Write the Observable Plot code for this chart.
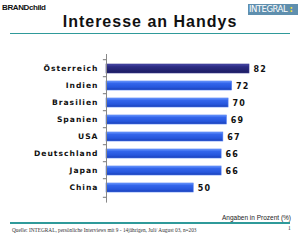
<!DOCTYPE html>
<html><head><meta charset="utf-8">
<script src="https://cdn.jsdelivr.net/npm/d3@7"></script>
<script src="https://cdn.jsdelivr.net/npm/@observablehq/plot@0.6"></script>
<style>
html,body{margin:0;padding:0;background:#fff;}
#wrap{position:relative;width:300px;height:240px;overflow:hidden;font-family:"Liberation Sans",Arial,sans-serif;}
#brand{position:absolute;left:2px;top:3px;font-size:8px;font-weight:bold;letter-spacing:-0.4px;color:#111;}
#logo{position:absolute;left:248px;top:4px;width:50px;height:11px;background:#5f8fae;color:#fff;font-family:"DejaVu Sans",sans-serif;font-size:8.5px;line-height:11px;letter-spacing:-0.5px;padding-left:1px;box-sizing:border-box;}
#logo span{color:#f0e040;font-weight:bold;}
#title{position:absolute;left:0;width:300px;top:13px;text-align:center;font-size:16px;font-weight:bold;letter-spacing:1px;color:#111;}
.rule{position:absolute;left:10px;width:280px;height:1.5px;background:#2f9a9a;}
#unit{position:absolute;right:9px;top:214px;font-size:6.5px;color:#222;}
#src{position:absolute;left:12px;top:227px;font-family:"Liberation Serif",serif;font-size:5.3px;color:#333;}
#page{position:absolute;left:288px;top:225px;font-family:"Liberation Serif",serif;font-size:5.5px;color:#333;}
#chart{position:absolute;left:0;top:40px;}
</style></head>
<body><div id="wrap">
<div id="brand">BRANDchild</div>
<div id="logo">INTEGRAL<span> :</span></div>
<div id="title">Interesse an Handys</div>
<div class="rule" style="top:32.5px"></div>
<div id="chart"></div>
<div id="unit">Angaben in Prozent (%)</div>
<div class="rule" style="top:222px"></div>
<div id="src">Quelle: INTEGRAL, persönliche Interviews mit 9 - 14jährigen, Juli/ August 03, n=203</div>
<div id="page">1</div>
</div>
<script>
const countries = ["Österreich","Indien","Brasilien","Spanien","USA","Deutschland","Japan","China"];
const values = [82,72,70,69,67,66,66,50];
const highlight = ["Österreich"];

const data = countries.map((c,i)=>({country:c, value:values[i], hl: highlight.includes(c)}));
const boundaries = countries.map(c=>({country:c, pos:-1})).concat([{country:countries[countries.length-1], pos:1}]);

const H = 170, MT = 14, MB = 7.4;
const chart = Plot.plot({
  width:300, height:H,
  marginTop:MT, marginBottom:MB, marginLeft:106, marginRight:19.6,
  x:{domain:[0,100], axis:null},
  y:{domain:countries, padding:0.46, axis:null},
  style:{fontFamily:"DejaVu Sans, Verdana, sans-serif", overflow:"visible"},
  marks:[
    Plot.barX(data,{y:"country", x:"value", fill:d=>d.hl?"url(#gdark)":"url(#gblue)", stroke:d=>d.hl?"#3a3a90":"#4a78f0", strokeWidth:0.6}),
    Plot.text(data,{y:"country", x:"value", text:d=>String(d.value), textAnchor:"start", dx:4, fontSize:8, fontWeight:"bold", fill:"#111"}),
    Plot.text(data,{y:"country", x:0, text:"country", textAnchor:"end", dx:-8, fontSize:7.6, fontWeight:"bold", fill:"#111"}),
    Plot.ruleX([0],{stroke:"#888", strokeWidth:1}),
    Plot.ruleY(boundaries,{y:"country", x1:-1.8, x2:0, stroke:"#777", strokeWidth:1})
  ]
});
document.getElementById("chart").appendChild(chart);
const svg = chart;
const ns="http://www.w3.org/2000/svg";
const defs=document.createElementNS(ns,"defs");
defs.innerHTML=`<linearGradient id="gblue" x1="0" y1="0" x2="0" y2="1">
<stop offset="0" stop-color="#6f9cff"/><stop offset="0.25" stop-color="#3466ec"/><stop offset="0.7" stop-color="#2656dc"/><stop offset="1" stop-color="#1b3fb4"/></linearGradient>
<linearGradient id="gdark" x1="0" y1="0" x2="0" y2="1">
<stop offset="0" stop-color="#4a4aa8"/><stop offset="0.3" stop-color="#2c2c84"/><stop offset="1" stop-color="#1c1c60"/></linearGradient>`;
svg.insertBefore(defs, svg.firstChild);
// letter spacing for labels
svg.querySelectorAll("text").forEach(t=>{
  if(countries.includes(t.textContent)) t.style.letterSpacing="1px";
  else if(values.map(String).includes(t.textContent)) t.style.letterSpacing="1.2px";
});
// move the small ticks to band edges, stretch the axis line over the bands
const step = (H-MT-MB)/countries.length;
const lines = Array.from(svg.querySelectorAll("line"));
const ticks = lines.filter(l=>l.getAttribute("y1")===l.getAttribute("y2") || (l.getAttribute("y1")===null && l.getAttribute("y2")===null));
ticks.forEach((l,i)=>{ if(boundaries[i]) l.setAttribute("transform",`translate(0,${boundaries[i].pos*step/2})`); });
const vline = lines.find(l=>l.getAttribute("x1")===l.getAttribute("x2") && l.getAttribute("x1")!==null);
if(vline){ vline.setAttribute("y1",MT); vline.setAttribute("y2",H-MB); }
</script>
</body></html>
